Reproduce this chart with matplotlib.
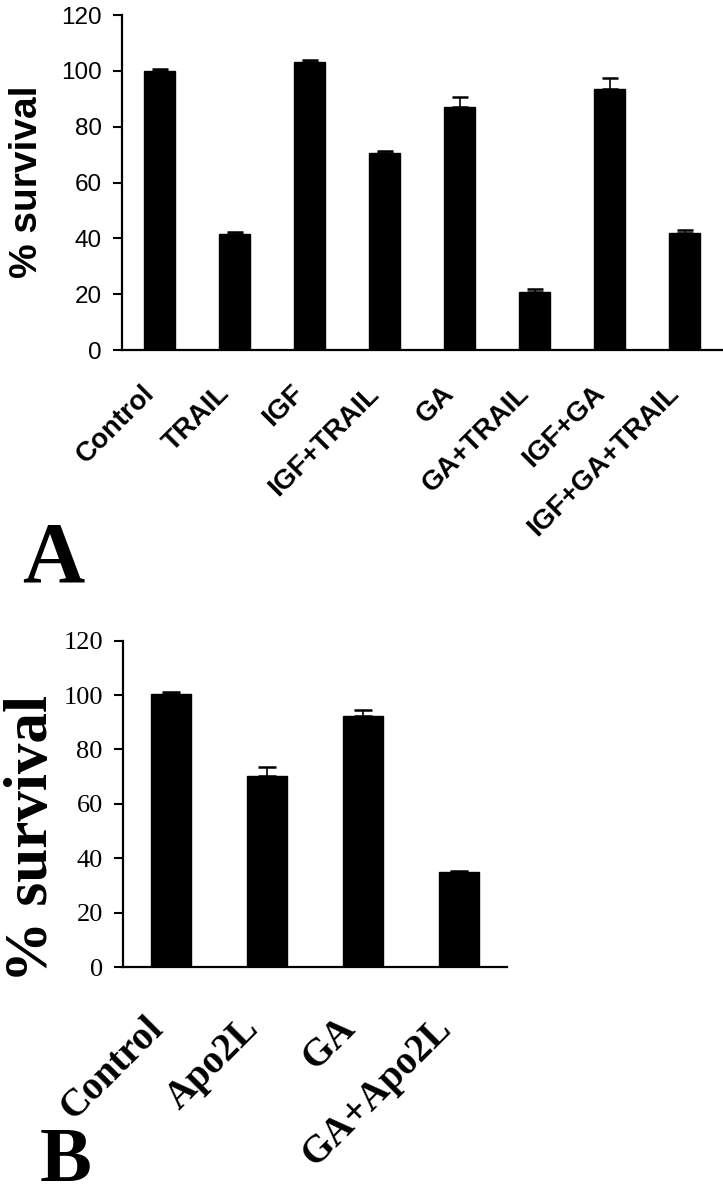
import matplotlib
matplotlib.use("Agg")
import matplotlib.pyplot as plt
import matplotlib.transforms as mtransforms
import numpy as np

# panel A
labels_a = ["Control", "TRAIL", "IGF", "IGF+TRAIL", "GA", "GA+TRAIL", "IGF+GA", "IGF+GA+TRAIL"]
survival_a = [100.0, 41.5, 103.0, 70.7, 87.2, 20.7, 93.4, 42.0]
err_a = [0.8, 0.9, 0.8, 0.5, 3.5, 1.3, 4.0, 1.0]

# panel B
labels_b = ["Control", "Apo2L", "GA", "GA+Apo2L"]
survival_b = [100.3, 70.3, 92.3, 34.8]
err_b = [1.0, 3.4, 2.2, 0.5]

yticks = [0, 20, 40, 60, 80, 100, 120]

W, H = 723, 1199
fig = plt.figure(figsize=(W / 100, H / 100), dpi=100)

def px_axes(left, right, top, bottom):
    return fig.add_axes([left / W, 1 - bottom / H, (right - left) / W, (bottom - top) / H])

def draw_panel(ax, labels, vals, errs, tickfont, labfont, labsize, ticksize, capsize, xpad, barw, shift):
    x = np.arange(len(labels))
    ax.bar(x, vals, width=barw, color="black", edgecolor="black", zorder=2)
    ax.errorbar(x, vals, yerr=[np.zeros(len(errs)), errs], fmt="none", ecolor="black",
                elinewidth=1.2, capsize=capsize, capthick=1.8, zorder=3)
    ax.set_xlim(-0.5, len(labels) - 0.5)
    ax.set_ylim(0, 120)
    ax.set_yticks(yticks)
    ax.set_xticks(x)
    ax.set_xticklabels(labels, rotation=45, ha="right", fontfamily=labfont,
                       fontweight="bold", fontsize=labsize)
    # labels sit a little left of the bars
    off = mtransforms.ScaledTranslation(-shift / 100, 0, fig.dpi_scale_trans)
    for t in ax.get_xticklabels():
        t.set_transform(t.get_transform() + off)
    for t in ax.get_yticklabels():
        t.set_fontfamily(tickfont)
        t.set_fontsize(ticksize)
    ax.spines["top"].set_visible(False)
    ax.spines["right"].set_visible(False)
    ax.spines["left"].set_linewidth(1.6)
    ax.spines["bottom"].set_linewidth(1.6)
    ax.tick_params(axis="y", direction="out", length=6.5, width=1.5, pad=8)
    ax.tick_params(axis="x", length=0, pad=xpad)

axA = px_axes(122, 722, 15, 350)
draw_panel(axA, labels_a, survival_a, err_a, "Liberation Sans", "Liberation Sans",
           20, 17.5, 5.5, 22, 0.41, 8)
fig.text(9 / W, 1 - 182 / H, "% survival", rotation=90, ha="left", va="center",
         fontfamily="Liberation Sans", fontweight="bold", fontsize=28)
fig.text(22 / W, 1 - 582 / H, "A", ha="left", va="baseline",
         fontfamily="Liberation Serif", fontweight="bold", fontsize=62)

axB = px_axes(123, 507, 640.7, 967)
draw_panel(axB, labels_b, survival_b, err_b, "Liberation Serif", "Liberation Serif",
           28, 19, 6.5, 31, 0.42, 10)
fig.text(4 / W, 1 - 838 / H, "% survival", rotation=90, ha="left", va="center",
         fontfamily="Liberation Serif", fontweight="bold", fontsize=44)
fig.text(40 / W, 1 / H, "B", ha="left", va="bottom",
         fontfamily="Liberation Serif", fontweight="bold", fontsize=56)

fig.savefig("out.png", dpi=100)
